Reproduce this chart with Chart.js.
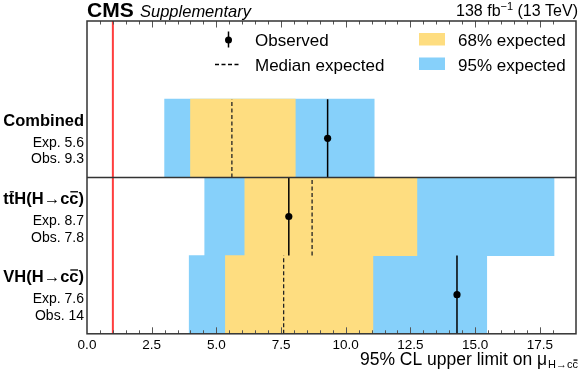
<!DOCTYPE html>
<html>
<head>
<meta charset="utf-8">
<script src="https://cdn.jsdelivr.net/npm/chart.js@4.4.1/dist/chart.umd.min.js"></script>
<style>
  html, body { margin: 0; padding: 0; background: #fff; }
  #wrap { width: 580px; height: 371px; position: relative; }
</style>
</head>
<body>
<div id="wrap"><canvas id="limits"></canvas></div>
<script>
// channels, top row first
const channels = ["Combined", "ttH", "VH"];
const rowCenters = [2.5, 1.5, 0.5];
const expected = [5.6, 8.7, 7.6];
const observed = [9.3, 7.8, 14.3];
const lo95 = [3.0, 4.55, 3.95];
const lo68 = [4.0, 6.1, 5.35];
const hi68 = [8.05, 12.75, 11.05];
const hi95 = [11.1, 18.05, 15.45];
const expLabels = ["5.6", "8.7", "7.6"];
const obsLabels = ["9.3", "7.8", "14"];
const smLine = 1.0;
const xMax = 18.9;

const FONT = "'Liberation Sans', Arial, Helvetica, sans-serif";
const YELLOW = "#fedd80";
const BLUE = "#86d0fa";

Chart.defaults.font.family = FONT;

const isMajor = v => Math.abs(v / 2.5 - Math.round(v / 2.5)) < 1e-6;

// label pieces: [text, overline?]
const rowTitles = [
    [["Combined", false]],
    [["t", false], ["t", true], ["H(H\u2192c", false], ["c", true], [")", false]],
    [["VH(H\u2192c", false], ["c", true], [")", false]]
];

function drawPieces(ctx, pieces, xRight, yBase, size) {
    const widths = pieces.map(p => ctx.measureText(p[0]).width);
    let x = xRight - widths.reduce((a, b) => a + b, 0);
    pieces.forEach((p, i) => {
        ctx.fillText(p[0], x, yBase);
        if (p[1]) {
            ctx.fillRect(x + 1, yBase - size * 0.78, widths[i] - 1.5, 1.3);
        }
        x += widths[i];
    });
}

const deco = {
    id: "deco",
    afterDraw(chart) {
        const { ctx, chartArea: a, scales: { x, y } } = chart;
        ctx.save();

        // inward ticks, bottom and top
        ctx.strokeStyle = "#555";
        ctx.lineWidth = 1;
        x.ticks.forEach(t => {
            const v = t.value;
            if (Math.abs(v * 2 - Math.round(v * 2)) > 1e-6 || v <= x.min || v >= x.max) return;
            const len = isMajor(v) ? 6.5 : 3.5;
            const px = Math.round(x.getPixelForValue(v)) + 0.5;
            ctx.beginPath();
            ctx.moveTo(px, a.bottom);
            ctx.lineTo(px, a.bottom - len);
            ctx.moveTo(px, a.top);
            ctx.lineTo(px, a.top + len);
            ctx.stroke();
        });

        // separator below the combined row + frame
        ctx.strokeStyle = "#333";
        ctx.lineWidth = 1.5;
        const ySep = y.getPixelForValue(2);
        ctx.beginPath();
        ctx.moveTo(a.left, ySep);
        ctx.lineTo(a.right, ySep);
        ctx.stroke();
        ctx.strokeRect(a.left, a.top, a.width, a.height);

        // row labels
        ctx.fillStyle = "#000";
        ctx.textAlign = "left";
        ctx.textBaseline = "alphabetic";
        channels.forEach((c, i) => {
            const yc = y.getPixelForValue(rowCenters[i]);
            ctx.font = "bold 16.5px " + FONT;
            drawPieces(ctx, rowTitles[i], 84, yc - 12.5, 16.5);
            ctx.font = "14px " + FONT;
            ctx.textAlign = "right";
            ctx.fillText("Exp. " + expLabels[i], 84, yc + 8.3);
            ctx.fillText("Obs. " + obsLabels[i], 84, yc + 25);
            ctx.textAlign = "left";
        });

        // legend
        ctx.font = "17px " + FONT;
        ctx.fillText("Observed", 255, 46);
        ctx.fillText("Median expected", 255, 70.5);
        ctx.fillText("68% expected", 458, 46);
        ctx.fillText("95% expected", 458, 70.5);
        ctx.strokeStyle = "#000";
        ctx.lineWidth = 1.5;
        ctx.beginPath();
        ctx.moveTo(228.5, 31.5);
        ctx.lineTo(228.5, 47.5);
        ctx.stroke();
        ctx.beginPath();
        ctx.arc(228.5, 40, 3.5, 0, Math.PI * 2);
        ctx.fill();
        ctx.lineWidth = 1.3;
        ctx.setLineDash([4, 2.5]);
        ctx.beginPath();
        ctx.moveTo(215, 64.5);
        ctx.lineTo(241, 64.5);
        ctx.stroke();
        ctx.setLineDash([]);
        ctx.fillStyle = YELLOW;
        ctx.fillRect(419, 33, 26, 12.5);
        ctx.fillStyle = BLUE;
        ctx.fillRect(419, 57.5, 26, 12.5);

        // header
        ctx.fillStyle = "#000";
        ctx.font = "bold 21px " + FONT;
        ctx.fillText("CMS", 87, 16.5);
        ctx.font = "italic 16.5px " + FONT;
        ctx.fillText("Supplementary", 140, 16.5);

        ctx.font = "16px " + FONT;
        const p1 = "138 fb", p3 = " (13 TeV)";
        const w1 = ctx.measureText(p1).width, w3 = ctx.measureText(p3).width;
        ctx.font = "11px " + FONT;
        const p2 = "\u22121";
        const w2 = ctx.measureText(p2).width;
        let hx = 578 - w1 - w2 - w3;
        ctx.font = "16px " + FONT;
        ctx.fillText(p1, hx, 16);
        ctx.font = "11px " + FONT;
        ctx.fillText(p2, hx + w1, 10);
        ctx.font = "16px " + FONT;
        ctx.fillText(p3, hx + w1 + w2, 16);

        // x title with subscript
        ctx.font = "11px " + FONT;
        const sub = ["H\u2192c", "c"];
        const sw = ctx.measureText(sub[0]).width + ctx.measureText(sub[1]).width;
        ctx.font = "17.5px " + FONT;
        const main = "95% CL upper limit on \u03bc";
        const mw = ctx.measureText(main).width;
        const tx = 578 - sw - mw - 1;
        ctx.fillText(main, tx, 364.5);
        ctx.font = "11px " + FONT;
        drawPieces(ctx, [[sub[0], false], [sub[1], true]], 578, 368, 11);

        ctx.restore();
    }
};

const rowLine = (v, i) => [{ x: v, y: rowCenters[i] - 0.5 }, { x: v, y: rowCenters[i] + 0.5 }];

const datasets = [
    {
        type: "bar", indexAxis: "y", grouped: false, order: 3,
        data: channels.map((c, i) => ({ y: rowCenters[i], x: [lo68[i], hi68[i]] })),
        backgroundColor: YELLOW, borderWidth: 0,
        barPercentage: 1, categoryPercentage: 1
    },
    {
        type: "bar", indexAxis: "y", grouped: false, order: 4,
        data: channels.map((c, i) => ({ y: rowCenters[i], x: [lo95[i], hi95[i]] })),
        backgroundColor: BLUE, borderWidth: 0,
        barPercentage: 1, categoryPercentage: 1
    },
    {
        type: "line", order: 2,
        data: [{ x: smLine, y: 0 }, { x: smLine, y: 4 }],
        borderColor: "#ff3d3d", borderWidth: 2, pointRadius: 0
    }
];
expected.forEach((v, i) => datasets.push({
    type: "line", order: 1, data: rowLine(v, i),
    borderColor: "#222", borderWidth: 1.3, borderDash: [4, 2.5], pointRadius: 0
}));
observed.forEach((v, i) => datasets.push({
    type: "line", order: 1, data: rowLine(v, i),
    borderColor: "#000", borderWidth: 1.5, pointRadius: 0
}));
datasets.push({
    type: "scatter", order: 0,
    data: observed.map((v, i) => ({ x: v, y: rowCenters[i] })),
    backgroundColor: "#000", borderWidth: 0, pointRadius: 3.6
});

new Chart(document.getElementById("limits"), {
    type: "bar",
    data: { datasets },
    options: {
        responsive: true,
        maintainAspectRatio: false,
        animation: false,
        layout: { padding: { left: 87, right: 1.7, top: 21, bottom: 15 } },
        plugins: { legend: { display: false }, tooltip: { enabled: false } },
        scales: {
            x: {
                type: "linear", min: 0, max: xMax, offset: false,
                grid: { display: false, drawTicks: false },
                border: { display: false },
                ticks: {
                    stepSize: 0.5, autoSkip: false, maxRotation: 0, padding: 3,
                    color: "#000", font: { size: 13.5 },
                    callback: v => isMajor(v) ? v.toFixed(1) : ""
                }
            },
            y: {
                type: "linear", min: 0, max: 4, offset: false, display: false,
                ticks: { stepSize: 1 }
            }
        }
    },
    plugins: [deco]
});
</script>
</body>
</html>
